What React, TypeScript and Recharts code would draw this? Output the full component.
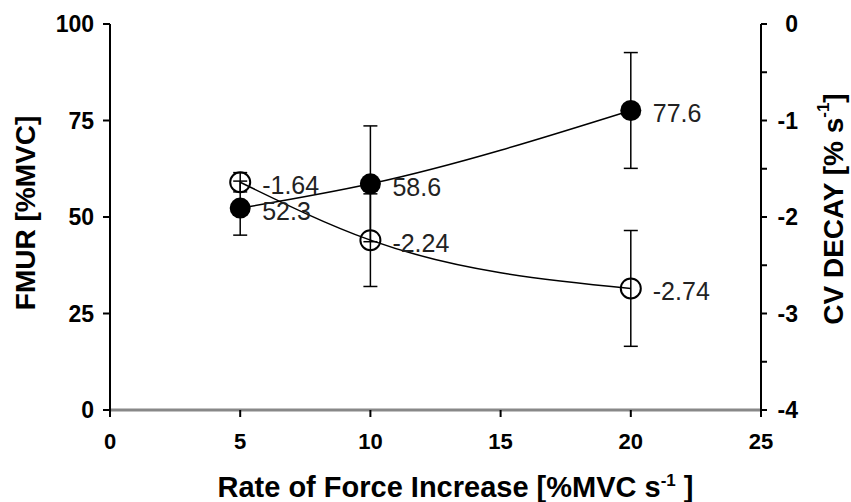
import { ComposedChart, Line, XAxis, YAxis, ErrorBar, LabelList, Label } from "recharts";

// rate of force increase (%MVC/s)
const rates = [5, 10, 20];
// FMUR, filled circles (left axis)
const fmur = [52.3, 58.6, 77.6];
const fmurSd = [7, 15, 15];
// CV decay, open circles (right axis)
const cvDecay = [-1.64, -2.24, -2.74];
const cvSd = [0.1, 0.48, 0.6];

const xTicks = [0, 5, 10, 15, 20, 25];
const leftTicks = [0, 25, 50, 75, 100];
const rightTicks = [-4, -3.5, -3, -2.5, -2, -1.5, -1, -0.5, 0];

const data = rates.map((x, i) => ({
  x,
  fmur: fmur[i],
  fmurSd: fmurSd[i],
  cv: cvDecay[i],
  cvSd: cvSd[i],
}));

const FONT = "'Liberation Sans', Arial, Helvetica, sans-serif";

const FilledDot = (p: any) => <circle key={`f${p.index}`} cx={p.cx} cy={p.cy} r={10.5} fill="#000" />;
const OpenDot = (p: any) => (
  <circle key={`o${p.index}`} cx={p.cx} cy={p.cy} r={10} fill="none" stroke="#000" strokeWidth={2} />
);

const valueLabel = (p: any) => (
  <text x={p.x + 22} y={p.y + 3} dominantBaseline="central" fontSize={25} fill="#222">
    {p.value}
  </text>
);

const RightTick = (p: any) => {
  const v = p.payload.value;
  if (!Number.isInteger(v)) return <g />;
  return (
    <text x={p.x + 29} y={p.y} dy="0.355em" textAnchor="end" fontSize={23} fontWeight="bold" fill="#000">
      {v}
    </text>
  );
};

const XTitle = (p: any) => {
  const vb = p.viewBox;
  return (
    <text x={vb.x + vb.width / 2 + 20} y={vb.y + 87} textAnchor="middle" fontSize={29} fontWeight="bold" fill="#000">
      Rate of Force Increase [%MVC s
      <tspan dy={-11} fontSize={17}>-1</tspan>
      <tspan dy={11}> ]</tspan>
    </text>
  );
};

const LeftTitle = (p: any) => {
  const vb = p.viewBox;
  const x = vb.x + 25;
  const y = vb.y + vb.height / 2 - 4;
  return (
    <text x={x} y={y} transform={`rotate(-90 ${x} ${y})`} textAnchor="middle" dominantBaseline="central"
      fontSize={28} fontWeight="bold" fill="#000">
      FMUR [%MVC]
    </text>
  );
};

const RightTitle = (p: any) => {
  const vb = p.viewBox;
  const x = vb.x + 72;
  const y = vb.y + vb.height / 2 - 8;
  return (
    <text x={x} y={y} transform={`rotate(-90 ${x} ${y})`} textAnchor="middle" dominantBaseline="central"
      fontSize={28} fontWeight="bold" fill="#000">
      CV DECAY [% s
      <tspan dy={-10} fontSize={17}>-1</tspan>
      <tspan dy={10}>]</tspan>
    </text>
  );
};

export default function App() {
  return (
    <div style={{ position: "absolute", left: 0, top: 0, width: 851, height: 502, background: "#fff", fontFamily: FONT }}>
      <ComposedChart width={851} height={502} data={data} margin={{ top: 24, right: 0, bottom: 0, left: 0 }}>
        <XAxis
          dataKey="x" type="number" domain={[0, 25]} ticks={xTicks} height={92}
          axisLine={{ stroke: "#888", strokeWidth: 3 }}
          tickLine={{ stroke: "#000", strokeWidth: 2 }}
          tickSize={7} tickMargin={16}
          tick={{ fill: "#000", fontSize: 22, fontWeight: "bold" }}
        >
          <Label content={XTitle} />
        </XAxis>
        <YAxis
          yAxisId="left" domain={[0, 100]} ticks={leftTicks} width={110}
          axisLine={{ stroke: "#000", strokeWidth: 2 }}
          tickLine={{ stroke: "#000", strokeWidth: 2 }}
          tickSize={7} tickMargin={9}
          tick={{ fill: "#000", fontSize: 23, fontWeight: "bold" }}
        >
          <Label content={LeftTitle} />
        </YAxis>
        <YAxis
          yAxisId="right" orientation="right" domain={[-4, 0]} ticks={rightTicks} width={90}
          axisLine={{ stroke: "#000", strokeWidth: 2 }}
          tickLine={{ stroke: "#000", strokeWidth: 2 }}
          tickSize={6} tickMargin={2}
          tick={RightTick}
        >
          <Label content={RightTitle} />
        </YAxis>
        <Line
          yAxisId="left" dataKey="fmur" type="monotone" stroke="#000" strokeWidth={1.5}
          dot={FilledDot} activeDot={false} isAnimationActive={false}
        >
          <ErrorBar dataKey="fmurSd" direction="y" width={7} stroke="#000" strokeWidth={1.5} />
          <LabelList dataKey="fmur" content={valueLabel} />
        </Line>
        <Line
          yAxisId="right" dataKey="cv" type="monotone" stroke="#000" strokeWidth={1.5}
          dot={OpenDot} activeDot={false} isAnimationActive={false}
        >
          <ErrorBar dataKey="cvSd" direction="y" width={7} stroke="#000" strokeWidth={1.5} />
          <LabelList dataKey="cv" content={valueLabel} />
        </Line>
      </ComposedChart>
    </div>
  );
}
